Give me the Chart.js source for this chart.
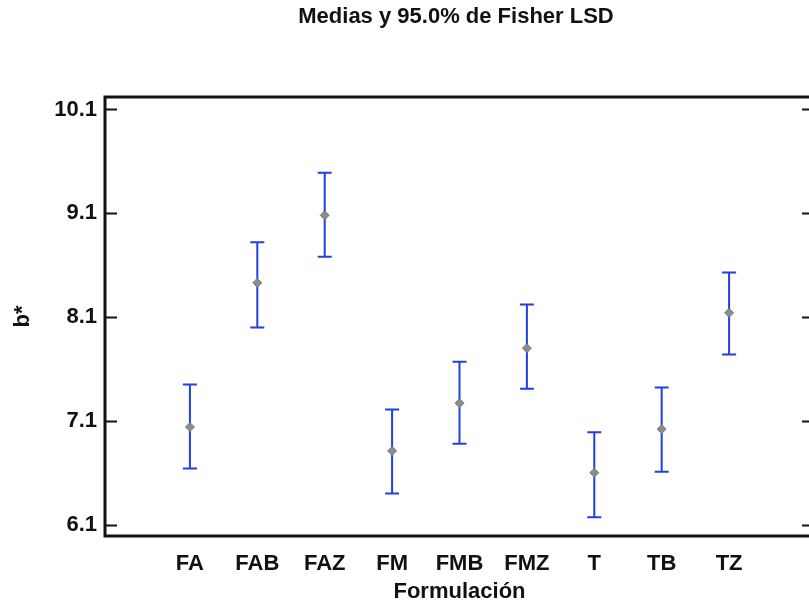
<!DOCTYPE html>
<html>
<head>
<meta charset="utf-8">
<script src="https://cdn.jsdelivr.net/npm/chart.js@4.4.0/dist/chart.umd.min.js"></script>
<style>
html, body { margin: 0; padding: 0; background: #fff; overflow: hidden; }
#wrap { width: 912px; height: 606px; }
</style>
</head>
<body>
<div id="wrap"><canvas id="chart" width="912" height="606"></canvas></div>
<script>
// --- datos ---
const categories = ['FA', 'FAB', 'FAZ', 'FM', 'FMB', 'FMZ', 'T', 'TB', 'TZ'];
const means = [7.04, 8.43, 9.08, 6.81, 7.27, 7.80, 6.60, 7.02, 8.14];
const lower = [6.64, 8.00, 8.68, 6.40, 6.88, 7.41, 6.17, 6.61, 7.74];
const upper = [7.45, 8.82, 9.49, 7.21, 7.67, 8.22, 6.99, 7.42, 8.53];
const yTicks = [6.1, 7.1, 8.1, 9.1, 10.1];

const FONT = "'Liberation Sans', Arial, sans-serif";

// barras de error (intervalos LSD)
const errorBars = {
  id: 'errorBars',
  beforeDatasetsDraw(chart) {
    const { ctx, scales: { x, y } } = chart;
    ctx.save();
    ctx.strokeStyle = '#2040e0';
    ctx.lineWidth = 2;
    categories.forEach((c, i) => {
      const px = x.getPixelForValue(i);
      const top = y.getPixelForValue(upper[i]);
      const bot = y.getPixelForValue(lower[i]);
      ctx.beginPath();
      ctx.moveTo(px, top); ctx.lineTo(px, bot);
      ctx.moveTo(px - 7, top); ctx.lineTo(px + 7, top);
      ctx.moveTo(px - 7, bot); ctx.lineTo(px + 7, bot);
      ctx.stroke();
    });
    ctx.restore();
  }
};

// marco y marcas hacia dentro
const frame = {
  id: 'frame',
  afterDraw(chart) {
    const { ctx, chartArea: a, scales: { y } } = chart;
    ctx.save();
    ctx.strokeStyle = '#111';
    ctx.lineWidth = 2;
    yTicks.forEach(v => {
      const py = Math.round(y.getPixelForValue(v)) + 0.5;
      ctx.beginPath();
      ctx.moveTo(a.left, py); ctx.lineTo(a.left + 12, py);
      ctx.moveTo(a.right - 12, py); ctx.lineTo(a.right, py);
      ctx.stroke();
    });
    ctx.lineWidth = 3;
    ctx.strokeRect(a.left, a.top, a.right - a.left, a.bottom - a.top);
    ctx.restore();
  }
};

new Chart(document.getElementById('chart'), {
  type: 'scatter',
  data: {
    datasets: [{
      data: means.map((m, i) => ({ x: i, y: m })),
      pointStyle: 'rectRot',
      radius: 4.5,
      backgroundColor: '#8c8c8c',
      borderColor: '#7a7a7a',
      borderWidth: 1
    }]
  },
  options: {
    responsive: false,
    animation: false,
    layout: { padding: 0 },
    plugins: {
      legend: { display: false },
      tooltip: { enabled: false },
      title: {
        display: true,
        text: 'Medias y 95.0% de Fisher LSD',
        color: '#111',
        font: { family: FONT, size: 22, weight: 'bold' },
        padding: { top: 4, bottom: 66.6 }
      }
    },
    scales: {
      x: {
        type: 'linear',
        min: -1.26,
        max: 9.26,
        afterBuildTicks: s => { s.ticks = categories.map((c, i) => ({ value: i })); },
        afterFit: s => { s.height = 70; },
        grid: { display: false, drawTicks: false },
        border: { display: false },
        ticks: {
          callback: v => categories[v],
          color: '#111',
          font: { family: FONT, size: 22, weight: 'bold' },
          padding: 15,
          maxRotation: 0,
          autoSkip: false
        },
        title: {
          display: true,
          text: 'Formulación',
          color: '#111',
          font: { family: FONT, size: 22, weight: 'bold' },
          padding: { top: 0, bottom: 1 }
        }
      },
      y: {
        min: 5.99,
        max: 10.22,
        afterBuildTicks: s => { s.ticks = yTicks.map(v => ({ value: v })); },
        afterFit: s => { s.width = 105; },
        grid: { display: false, drawTicks: false },
        border: { display: false },
        ticks: {
          callback: v => v.toFixed(1),
          color: '#111',
          font: { family: FONT, size: 22, weight: 'bold' },
          padding: 8
        },
        title: {
          display: true,
          text: 'b*',
          color: '#111',
          font: { family: FONT, size: 22, weight: 'bold' },
          padding: { top: 10, bottom: 0 }
        }
      },
      // eje derecho vacio: reserva el espacio que queda fuera de la ventana
      yRight: {
        position: 'right',
        min: 5.99,
        max: 10.22,
        afterFit: s => { s.width = 98; },
        grid: { display: false, drawTicks: false },
        border: { display: false },
        ticks: { display: false }
      }
    }
  },
  plugins: [errorBars, frame]
});
</script>
</body>
</html>
